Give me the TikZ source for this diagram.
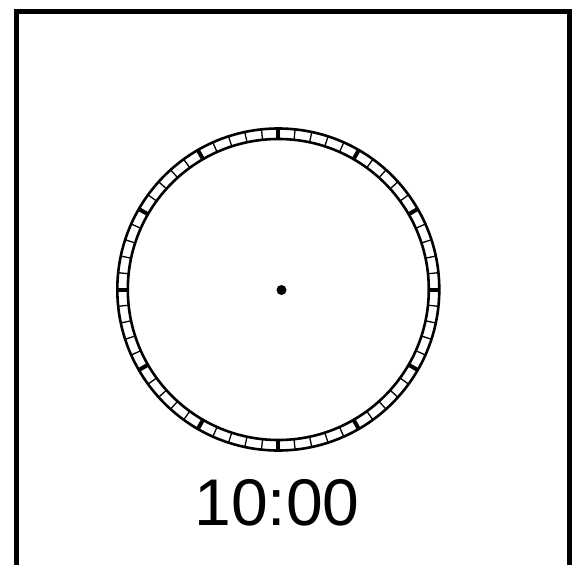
\documentclass[tikz,border=0pt]{standalone}
\usepackage{fontspec}
\setmainfont{Liberation Sans}
\usepackage{tikz}
\usetikzlibrary{calc}

\begin{document}
\begin{tikzpicture}[x=1pt, y=-1pt,
  rim/.style={line width=2.6pt},
  tick/.style={line width=1.3pt},
  hourtick/.style={line width=4pt},
  lbl/.style={font=\fontsize{66}{70}\selectfont, inner sep=0pt, anchor=base}
]
\useasboundingbox (0,0) rectangle (587,565);
\clip (0,0) rectangle (587,565);
\draw[line width=5.5pt] (16.5,11.5) rectangle (569.5,590);

\coordinate (c) at (278.3,289.5);
\coordinate (pin) at (281.5,290);
\draw[rim] (c) circle[radius=161];
\draw[rim] (c) circle[radius=150.5];
\foreach \i in {0,...,59}
  \draw[tick] ($(c)+(90-6*\i:150.5)$) -- ($(c)+(90-6*\i:161)$);
\foreach \i in {0,...,11}
  \draw[hourtick] ($(c)+(90-30*\i:150.5)$) -- ($(c)+(90-30*\i:161)$);
\fill (pin) circle[radius=5];

\node[lbl] (time) at (277,525) {10:00};
\end{tikzpicture}
\end{document}
